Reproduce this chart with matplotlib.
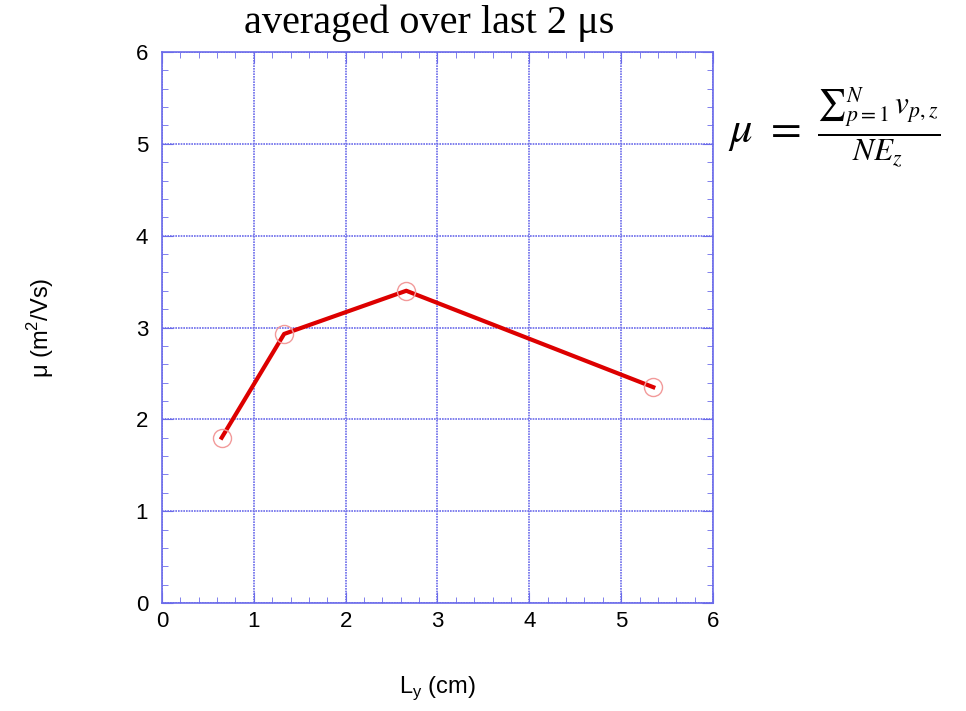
import matplotlib
matplotlib.use("Agg")
import matplotlib.pyplot as plt
from matplotlib.ticker import MultipleLocator

# mobility vs. channel width
ly_cm = [0.65, 1.33, 2.66, 5.35]
mobility = [1.80, 2.93, 3.40, 2.35]

x_ticks = [0, 1, 2, 3, 4, 5, 6]
y_ticks = [0, 1, 2, 3, 4, 5, 6]

grid_blue = "#6b6bea"

fig = plt.figure(figsize=(9.66, 7.11), dpi=100)
ax = fig.add_axes([162 / 966, 1 - 603 / 711, 551 / 966, 551 / 711])

ax.plot(ly_cm, mobility, color="#dd0000", linewidth=3, zorder=3)
ax.plot(ly_cm, mobility, linestyle="none", marker="o", markersize=13,
        markerfacecolor="none", markeredgecolor="#f29a9a", markeredgewidth=1,
        zorder=4)

ax.set_xlim(0, 6)
ax.set_ylim(0, 6)
ax.set_xticks(x_ticks)
ax.set_yticks(y_ticks)
ax.xaxis.set_minor_locator(MultipleLocator(0.2))
ax.yaxis.set_minor_locator(MultipleLocator(0.2))
ax.grid(True, which="major", color=grid_blue, linestyle=(0, (1, 0.6)),
        linewidth=1.2)
ax.tick_params(which="both", direction="in", top=True, right=True,
               color=grid_blue, labelsize=16)
ax.tick_params(which="major", length=8)
ax.tick_params(which="minor", length=4)
ax.tick_params(axis="y", pad=10)
ax.tick_params(axis="x", pad=6)
for lab in ax.get_xticklabels() + ax.get_yticklabels():
    lab.set_fontfamily("Liberation Sans")
for sp in ax.spines.values():
    sp.set_color(grid_blue)
    sp.set_linewidth(1.2)

ax.set_xlabel(r"L$_\mathregular{y}$ (cm)", fontsize=17,
              fontfamily="Liberation Sans", labelpad=30)
ax.set_ylabel(r"μ (m$^\mathregular{2}$/Vs)", fontsize=17,
              fontfamily="Liberation Sans", labelpad=57)

fig.text(0.444, 0.968, "averaged over last 2 μs", ha="center", va="center",
         fontsize=29, fontfamily="Liberation Serif")

plt.rcParams["mathtext.fontset"] = "stix"
fig.text(0.863, 0.822,
         r"$\mu\ =\ \frac{{\sum}_{p=1}^{N}\,v_{p,z}}{NE_z}$",
         ha="center", va="center", fontsize=32)

fig.savefig("out.png", dpi=100)
